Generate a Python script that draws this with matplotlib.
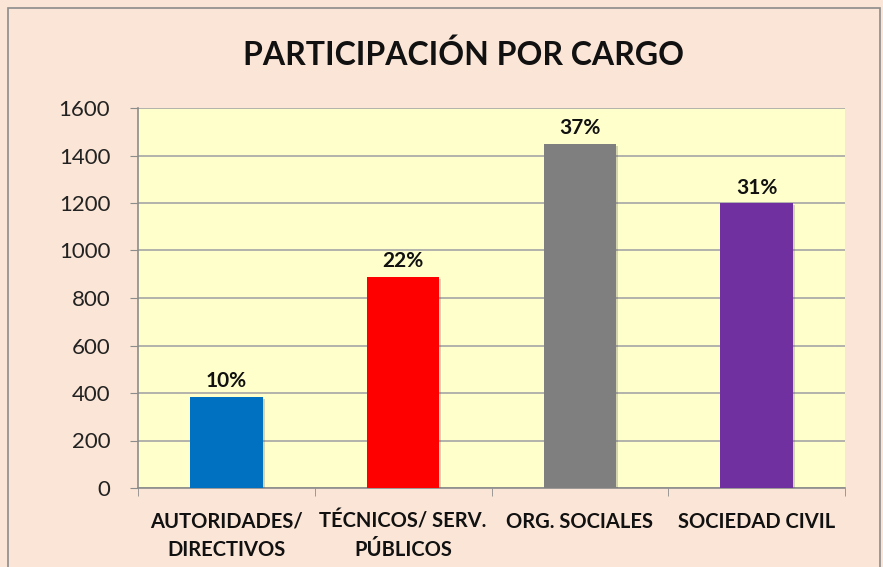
import matplotlib.pyplot as plt
import matplotlib.patheffects as pe
from matplotlib.patches import Rectangle
import numpy as np

categories = ["AUTORIDADES/\nDIRECTIVOS", "TÉCNICOS/ SERV.\nPÚBLICOS", "ORG. SOCIALES", "SOCIEDAD CIVIL"]
values = [385, 890, 1450, 1200]
pct_labels = ["10%", "22%", "37%", "31%"]
colors = ["#0070C0", "#FF0000", "#7F7F7F", "#7030A0"]
yticks = [0, 200, 400, 600, 800, 1000, 1200, 1400, 1600]

plt.rcParams['font.family'] = ['Lato', 'DejaVu Sans']

fig = plt.figure(figsize=(8.83, 5.67), dpi=100)
fig.patch.set_facecolor("#FBE5D6")
fig.patches.append(Rectangle((8 / 883, -10 / 567), 872 / 883, 569 / 567, transform=fig.transFigure,
                             fill=False, edgecolor="#8C8C8C", linewidth=1.2))

ax = fig.add_axes([138 / 883, 1 - 488 / 567, 707 / 883, 380 / 567])
ax.set_facecolor("#FFFFCC")

x = np.arange(len(categories))
bars = ax.bar(x, values, width=0.41, color=colors, zorder=3)
for b in bars:
    b.set_path_effects([pe.SimplePatchShadow(offset=(1.5, -1.5), alpha=0.25, shadow_rgbFace="#555555"), pe.Normal()])

for xi, v, lab in zip(x, values, pct_labels):
    ax.text(xi, v + 22, lab, ha="center", va="bottom", fontsize=15, fontweight="bold", color="#111111")

ax.set_xlim(-0.5, 3.5)
ax.set_ylim(0, 1600)
ax.set_yticks(yticks)
ax.tick_params(axis="y", labelsize=16, length=6, color="#8C8C8C", pad=14, labelcolor="#222222")
ax.yaxis.grid(True, color="#A6A6A6", linewidth=1.2, zorder=0)
ax.set_axisbelow(True)

ax.set_xticks(x)
ax.set_xticklabels(categories, fontsize=14.5, fontweight="bold", color="#111111", linespacing=1.55)
ax.tick_params(axis="x", length=0, pad=17)
ax.set_xticks(np.arange(-0.5, 4.0, 1.0), minor=True)
ax.tick_params(axis="x", which="minor", length=6, color="#8C8C8C")

for s in ["top", "right"]:
    ax.spines[s].set_visible(False)
for s in ["left", "bottom"]:
    ax.spines[s].set_color("#8C8C8C")
    ax.spines[s].set_linewidth(1.2)

fig.text(464 / 883, 1 - 55 / 567, "PARTICIPACIÓN POR CARGO", ha="center", va="center",
         fontsize=23, fontweight="bold", color="#111111")

fig.savefig("out.png", dpi=100, facecolor=fig.get_facecolor())
